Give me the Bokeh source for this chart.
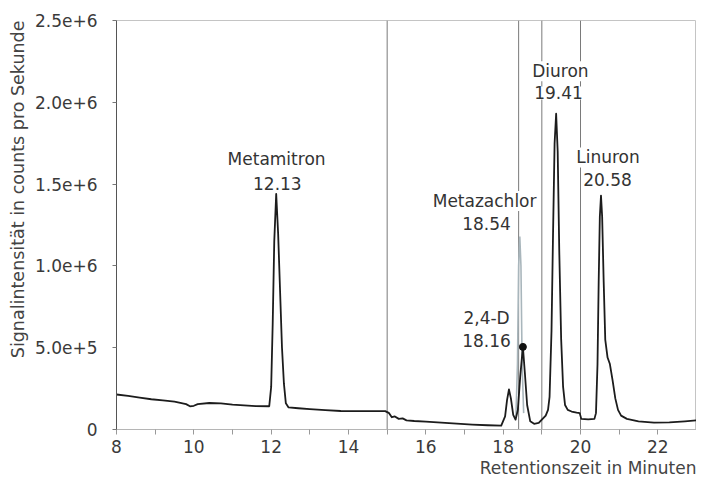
import math
from bokeh.plotting import figure
from bokeh.models import Range1d, FixedTicker, Span, Label, Title
from bokeh.embed import file_html
from bokeh.resources import INLINE

# ---------------- data ----------------
# main chromatogram trace: retention time (min) / signal (counts per second)
rt = [8.0, 8.3, 8.6, 8.9, 9.2, 9.5, 9.8, 9.9, 10.0, 10.1, 10.4, 10.7, 11.0, 11.3, 11.6, 11.95,
      12.0, 12.04, 12.08, 12.13, 12.18, 12.23, 12.28, 12.33, 12.38, 12.45,
      12.7, 13.0, 13.4, 13.8, 14.2, 14.6, 14.95,
      15.05, 15.12, 15.2, 15.3, 15.4, 15.5, 15.7, 16.0, 16.4, 16.8, 17.2, 17.6, 17.95,
      18.05, 18.1, 18.15, 18.2, 18.26, 18.32, 18.38, 18.44, 18.51, 18.56, 18.62, 18.7,
      18.8, 18.92, 19.0, 19.1, 19.16, 19.2, 19.25, 19.29, 19.33, 19.37, 19.41, 19.45, 19.5,
      19.55, 19.6, 19.67, 19.77, 19.9, 19.98,
      20.02, 20.2, 20.36, 20.4, 20.44, 20.47, 20.5, 20.53, 20.56, 20.6, 20.64, 20.7, 20.76,
      20.83, 20.9, 20.97, 21.05, 21.2, 21.5, 21.9, 22.3, 22.7, 23.0]
signal = [2.14e5, 2.05e5, 1.95e5, 1.85e5, 1.78e5, 1.70e5, 1.55e5, 1.42e5, 1.45e5, 1.55e5,
          1.62e5, 1.60e5, 1.52e5, 1.47e5, 1.43e5, 1.42e5,
          2.6e5, 6.5e5, 1.15e6, 1.44e6, 1.2e6, 8.5e5, 5.0e5, 2.8e5, 1.6e5, 1.35e5,
          1.30e5, 1.25e5, 1.18e5, 1.13e5, 1.12e5, 1.12e5, 1.12e5,
          1.0e5, 7.5e4, 8.0e4, 6.5e4, 6.8e4, 5.6e4, 5.2e4, 4.8e4, 4.2e4, 3.6e4, 3.0e4, 2.6e4, 2.4e4,
          8.0e4, 1.8e5, 2.45e5, 1.9e5, 9.0e4, 6.0e4, 1.2e5, 3.2e5, 5.05e5, 3.5e5, 1.5e5, 5.0e4,
          3.5e4, 4.0e4, 6.0e4, 8.5e4, 1.2e5, 2.0e5, 6.0e5, 1.2e6, 1.75e6, 1.93e6, 1.7e6, 1.1e6, 5.5e5,
          2.6e5, 1.5e5, 1.2e5, 1.1e5, 1.03e5, 1.0e5,
          6.5e4, 6.2e4, 6.5e4, 1.0e5, 4.0e5, 9.0e5, 1.3e6, 1.43e6, 1.3e6, 9.0e5, 5.5e5, 4.4e5, 4.0e5,
          3.0e5, 1.9e5, 1.2e5, 8.5e4, 6.5e4, 5.0e4, 4.2e4, 4.3e4, 5.0e4, 5.6e4]

# Metazachlor trace (light grey)
meta_rt = [18.33, 18.37, 18.40, 18.43, 18.46, 18.49, 18.53]
meta_signal = [8.0e4, 4.0e5, 1.0e6, 1.18e6, 1.0e6, 4.0e5, 1.0e5]

# marked point on the 2,4-D trace
dot_rt = [18.51]
dot_signal = [5.05e5]

# vertical time-window lines
window_rt = [15.0, 18.4, 19.0, 20.0]

# peak annotations
peak_names = ["Metamitron", "Metazachlor", "2,4-D", "Diuron", "Linuron"]
peak_times = ["12.13", "18.54", "18.16", "19.41", "20.58"]

# axis ticks
x_ticks = [8, 10, 12, 14, 16, 18, 20, 22]
x_minor = [9, 11, 13, 15, 17, 19, 21, 23]
y_ticks = [0, 5e5, 1e6, 1.5e6, 2e6, 2.5e6]
y_tick_labels = ["0", "5.0e+5", "1.0e+6", "1.5e+6", "2.0e+6", "2.5e+6"]

x_title = "Retentionszeit in Minuten"
y_title = "Signalintensität in counts pro Sekunde"

# ---------------- figure ----------------
FONT = "DejaVu Sans"
p = figure(width=696, height=477, output_backend="svg", toolbar_location=None,
           x_range=Range1d(8, 23), y_range=Range1d(0, 2.5e6),
           min_border_left=116, min_border_right=0, min_border_top=20, min_border_bottom=48)
p.grid.visible = False
p.background_fill_color = "white"
p.border_fill_color = "white"
p.outline_line_color = "#c4c4c4"
p.outline_line_width = 1

# x axis
xa = p.xaxis[0]
xa.ticker = FixedTicker(ticks=x_ticks, minor_ticks=x_minor)
xa.axis_line_color = "#b5b5b5"
xa.major_tick_line_color = "#999999"
xa.minor_tick_line_color = "#999999"
xa.major_tick_in = 0
xa.major_tick_out = 5
xa.minor_tick_in = 0
xa.minor_tick_out = 5
xa.major_label_standoff = 5
xa.major_label_text_font = FONT
xa.major_label_text_font_size = "17px"
xa.major_label_text_color = "#3a3a3a"

# y axis
ya = p.yaxis[0]
ya.ticker = FixedTicker(ticks=y_ticks, minor_ticks=[])
ya.major_label_overrides = {t: s for t, s in zip(y_ticks, y_tick_labels)}
ya.axis_line_color = "#555555"
ya.major_tick_line_color = "#777777"
ya.major_tick_in = 0
ya.major_tick_out = 4
ya.major_label_standoff = 15
ya.major_label_text_font = FONT
ya.major_label_text_font_size = "17px"
ya.major_label_text_color = "#3a3a3a"

# axis titles as side titles (allow right/top alignment like the original)
p.add_layout(Title(text=x_title, align="right", text_font=FONT, text_font_size="17px",
                   text_font_style="normal", text_color="#444444", standoff=0), "below")
p.add_layout(Title(text=y_title, align="right", text_font=FONT, text_font_size="17.5px",
                   text_font_style="normal", text_color="#444444", standoff=8), "left")

# vertical window lines
for t in window_rt:
    p.add_layout(Span(location=t, dimension="height", line_color="#7a7a7a",
                      line_width=1, level="underlay"))

# traces
p.line(meta_rt, meta_signal, line_color="#a9b6bc", line_width=1.6)
p.line(rt, signal, line_color="#1c1c1c", line_width=1.8, line_join="round")
p.scatter(dot_rt, dot_signal, size=7, color="#111111")

# peak labels (centre positions in data units: name line, time line)
label_pos = [
    ((12.14, 1.655e6), (12.16, 1.505e6)),
    ((17.52, 1.396e6), (17.57, 1.258e6)),
    ((17.57, 6.8e5), (17.57, 5.46e5)),
    ((19.48, 2.19e6), (19.43, 2.057e6)),
    ((20.71, 1.663e6), (20.70, 1.529e6)),
]
for name, tm, (pn, pt) in zip(peak_names, peak_times, label_pos):
    for txt, (lx, ly) in ((name, pn), (tm, pt)):
        p.add_layout(Label(x=lx, y=ly, text=txt, text_align="center", text_baseline="middle",
                           text_font=FONT, text_font_size="17px", text_color="#333333",
                           background_fill_color="white", background_fill_alpha=1.0))

open("out.html", "w").write(file_html(p, INLINE))
